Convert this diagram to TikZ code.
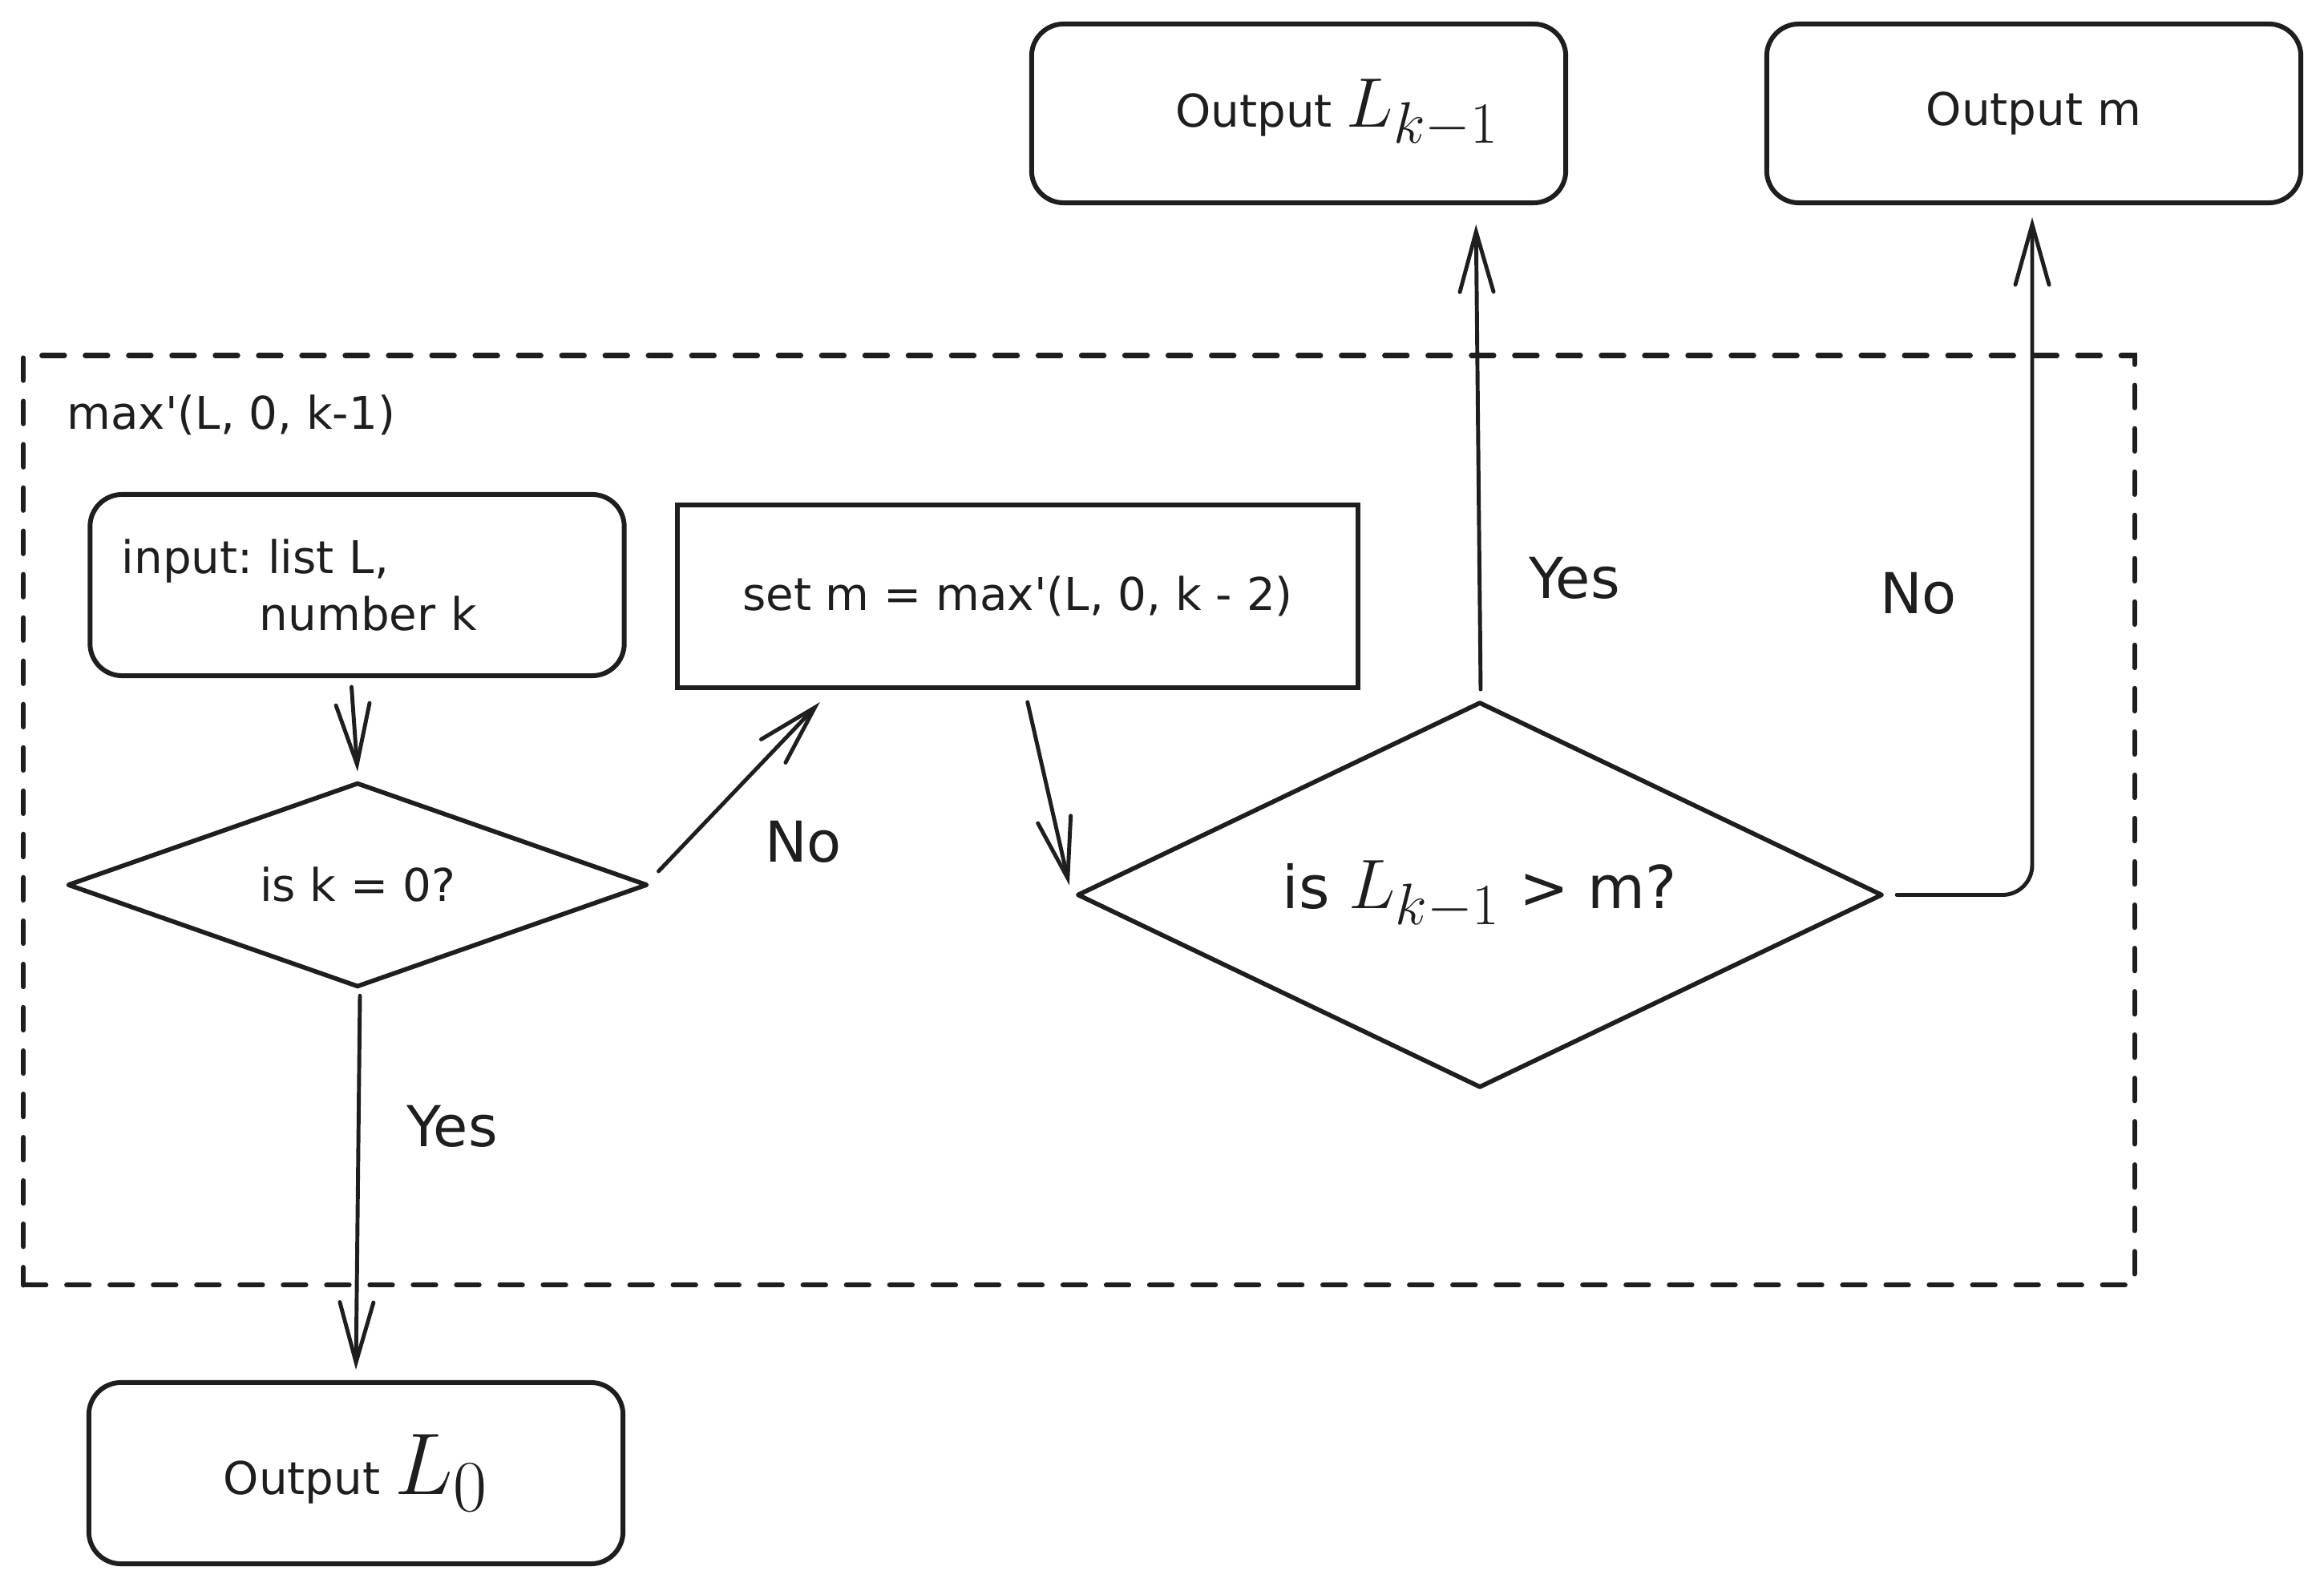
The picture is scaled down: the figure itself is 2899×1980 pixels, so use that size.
\documentclass[tikz,border=0pt]{standalone}
\usepackage[no-math]{fontspec}
\setmainfont{DejaVu Sans}
\usetikzlibrary{shapes.geometric,arrows.meta,calc}
\definecolor{ink}{HTML}{1E1E1E}
\frenchspacing
\newcommand{\fsmall}{\fontsize{16}{20}\selectfont}
\newcommand{\flabel}{\fontsize{20}{24}\selectfont}
\newcommand{\fmath}{\fontsize{24.88}{30}\selectfont}
\begin{document}
\begin{tikzpicture}[x=0.01cm,y=-0.01cm,
  every node/.style={text=ink},
  rbox/.style={draw=ink, line width=1.7pt, rounded corners=0.4cm,
    minimum width=6.66cm, minimum height=2.24cm, align=center, font=\fsmall},
  sbox/.style={draw=ink, line width=1.7pt, minimum width=8.49cm,
    minimum height=2.28cm, font=\fsmall},
  dec/.style={diamond, draw=ink, line width=1.6pt, inner sep=0pt, line join=round},
  flow/.style={draw=ink, line width=1.4pt, line cap=round,
    -{Straight Barb[length=0.75cm,width=0.42cm,line cap=round]}},
  lbl/.style={font=\flabel},
  groupframe/.style={draw=ink, line width=1.8pt, line cap=round,
    dash pattern=on 0.28cm off 0.26cm, minimum width=26.32cm,
    minimum height=11.59cm, inner sep=0pt}]

\useasboundingbox (0,0) rectangle (2899,1980);
\fill[white] (0,0) rectangle (2899,1980);

% dashed frame of the recursive call
\node[groupframe] (frm) at (1346,1023.5) {};
\node[anchor=west, inner sep=0pt, font=\fsmall] (frmlbl) at (83,518)
  {max\textquotesingle(L, 0, k-1)};

% boxes and decisions
\node[rbox, align=left, text width=5.87cm, inner xsep=0.39cm, minimum height=2.26cm]
  (inp) at (445.5,730) {input: list L,\\\hspace*{1.72cm}number k};
\node[sbox] (set) at (1269.5,744) {set m = max\textquotesingle(L, 0, k - 2)};
\node[dec, aspect=2.835, minimum width=7.23cm, minimum height=2.55cm, font=\fsmall]
  (d1) at (446,1104) {is k = 0?};
\node[dec, aspect=2.087, minimum width=10.04cm, minimum height=4.81cm,
  font=\fontsize{21}{25}\selectfont]
  (d2) at (1846,1116.5) {is {\fmath$L_{k-1}$} > m?};

\node[rbox, minimum height=2.23cm] (out1) at (1620,141.5)
  {\hspace*{0.96cm}Output {\fmath$L_{k-1}$}};
\node[rbox, minimum height=2.23cm] (out2) at (2537,141.5) {Output m};
\node[rbox, minimum height=2.26cm] (out0) at (444,1838)
  {Output {\fmath\scalebox{1.25}{$L_0$}}};

% connectors
\draw[flow] ($(inp.south)+(-7,11)$) -- ($(d1.north)+(0,-11)$);
\draw[flow] ($(d1.east)+(11,-17)$) -- ($(set.south west)+(181,15)$);
\draw[flow] ($(set.south west)+(440,15)$) -- ($(d2.west)+(-7,-12)$);
\draw[flow] ($(d2.north)+(1,-13)$) -- ($(out1.south east)+(-115,24)$);
\draw[flow, rounded corners=0.37cm] ($(d2.east)+(15,0)$) -| ($(out2.south)+(-2,15)$);
\draw[flow] ($(d1.south)+(3,8)$) -- ($(out0.north)+(0,-13)$);

% branch labels
\node[lbl] (no1) at (1002,1050) {No};
\node[lbl] (yes1) at (564,1405) {Yes};
\node[lbl] (yes2) at (1964,721) {Yes};
\node[lbl] (no2) at (2393,740) {No};
\end{tikzpicture}
\end{document}
